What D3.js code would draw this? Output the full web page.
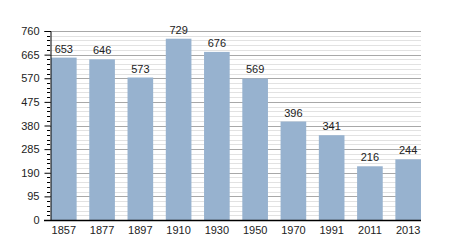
<!DOCTYPE html>
<html>
<head>
<meta charset="utf-8">
<script src="https://cdn.jsdelivr.net/npm/d3@7"></script>
<style>
  body { margin: 0; background: #fff; }
  text { font-family: "Liberation Sans", Arial, sans-serif; }
</style>
</head>
<body>
<div id="chart"></div>
<script>
var years = ['1857', '1877', '1897', '1910', '1930', '1950', '1970', '1991', '2011', '2013'];
var population = [653, 646, 573, 729, 676, 569, 396, 341, 216, 244];
var yTicks = [0, 95, 190, 285, 380, 475, 570, 665, 760];

var svgWidth = 450, svgHeight = 250;
var margin = { top: 31, right: 29, bottom: 30, left: 50 };
var width = svgWidth - margin.left - margin.right;
var height = svgHeight - margin.top - margin.bottom;

var svg = d3.select('#chart')
  .append('svg')
  .attr('width', svgWidth)
  .attr('height', svgHeight);
var g = svg.append('g')
  .attr('transform', 'translate(' + margin.left + ',' + margin.top + ')');

var x = d3.scaleBand().domain(years).range([1, width]).paddingInner(0.33).paddingOuter(0);
var y = d3.scaleLinear().domain([0, 760]).range([height, 0]);

// minor grid every 19
var minor = d3.range(0, 761, 19).filter(function (v) { return v % 95 !== 0; });
g.selectAll('.minor')
  .data(minor)
  .enter()
  .append('line')
  .attr('x1', 0).attr('x2', width)
  .attr('y1', function (d) { return Math.round(y(d)) + 0.5; })
  .attr('y2', function (d) { return Math.round(y(d)) + 0.5; })
  .attr('stroke', '#e2e2e2');

g.selectAll('.major')
  .data(yTicks.slice(1))
  .enter()
  .append('line')
  .attr('x1', 0).attr('x2', width)
  .attr('y1', function (d) { return Math.round(y(d)) + 0.5; })
  .attr('y2', function (d) { return Math.round(y(d)) + 0.5; })
  .attr('stroke', '#a8a8a8');

// minor ticks on the axis
g.selectAll('.mtick')
  .data(minor)
  .enter()
  .append('line')
  .attr('x1', -3).attr('x2', 0)
  .attr('y1', function (d) { return Math.round(y(d)) + 0.5; })
  .attr('y2', function (d) { return Math.round(y(d)) + 0.5; })
  .attr('stroke', '#000');

g.selectAll('.bar')
  .data(population)
  .enter()
  .append('rect')
  .attr('x', function (d, i) { return x(years[i]); })
  .attr('y', function (d) { return y(d); })
  .attr('width', x.bandwidth())
  .attr('height', function (d) { return height - y(d); })
  .attr('fill', '#97b2cf');

g.selectAll('.label')
  .data(population)
  .enter()
  .append('text')
  .attr('x', function (d, i) { return x(years[i]) + x.bandwidth() / 2; })
  .attr('y', function (d) { return y(d) - 5; })
  .attr('text-anchor', 'middle')
  .attr('font-size', 11)
  .attr('fill', '#222')
  .text(function (d) { return d; });

var yAxis = g.append('g')
  .attr('transform', 'translate(0.5,0)')
  .call(d3.axisLeft(y).tickValues(yTicks).tickSize(6).tickPadding(5));
yAxis.selectAll('text').attr('font-size', 11).attr('fill', '#222').style('font-family', '"Liberation Sans", Arial, sans-serif');

var xAxis = g.append('g')
  .attr('transform', 'translate(0,' + (height + 0.5) + ')')
  .call(d3.axisBottom(x).tickSize(0).tickPadding(6));
xAxis.select('.domain').attr('d', 'M-6,0H' + width).attr('stroke-width', 1.5);
xAxis.selectAll('text').attr('font-size', 11).attr('fill', '#222').style('font-family', '"Liberation Sans", Arial, sans-serif');
</script>
</body>
</html>
